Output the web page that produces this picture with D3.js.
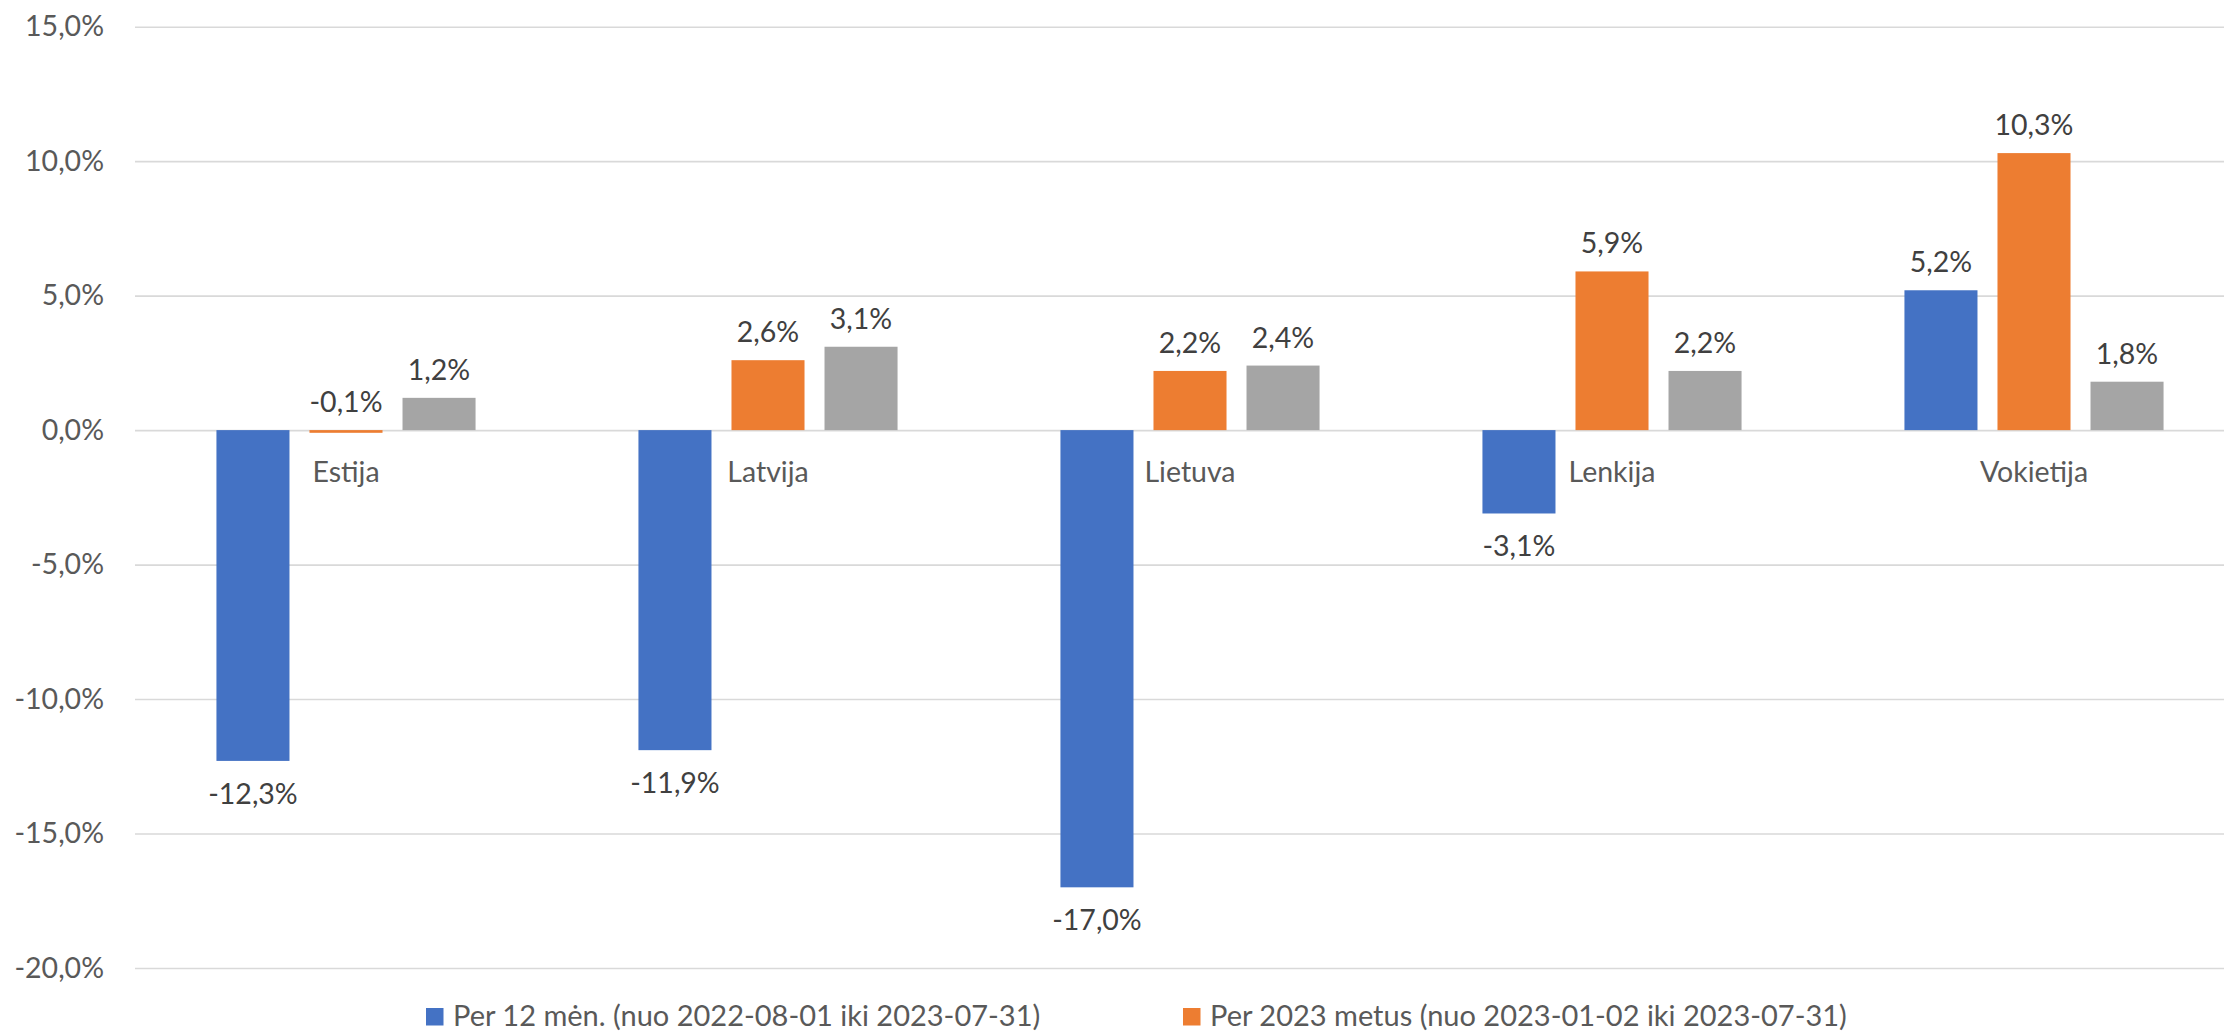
<!DOCTYPE html>
<html>
<head>
<meta charset="utf-8">
<script src="https://cdn.jsdelivr.net/npm/d3@7"></script>
<style>
  html, body { margin: 0; padding: 0; background: #fff; overflow: hidden; }
  svg { display: block; font-family: Lato, 'Noto Sans', sans-serif; }
</style>
</head>
<body>
<svg id="chart" width="2224" height="1031"></svg>
<script>
// data
const categories = ['Estija', 'Latvija', 'Lietuva', 'Lenkija', 'Vokietija'];
const per12men = [-12.3, -11.9, -17.0, -3.1, 5.2];
const per2023 = [-0.1, 2.6, 2.2, 5.9, 10.3];
const thirdSeries = [1.2, 3.1, 2.4, 2.2, 1.8];
const seriesKeys = ['s12', 's2023', 's3'];
const legendNames = [
  'Per 12 mėn. (nuo 2022-08-01 iki 2023-07-31)',
  'Per 2023 metus (nuo 2023-01-02 iki 2023-07-31)'
];
const yTicks = [-20, -15, -10, -5, 0, 5, 10, 15];

const colors = { s12: '#4472C4', s2023: '#ED7D31', s3: '#A5A5A5' };
const textColor = '#595959';

const rows = categories.map((c, i) => ({
  category: c,
  s12: per12men[i],
  s2023: per2023[i],
  s3: thirdSeries[i]
}));

const fmt = v => v.toFixed(1).replace('.', ',') + '%';

const svg = d3.select('#chart');

// plot area runs a bit past the right edge (the original is cropped)
const plotLeft = 135, plotRight = 2245;

const y = d3.scaleLinear()
  .domain([-20, 15])
  .range([968, 26.7]);

const x0 = d3.scaleBand()
  .domain(categories)
  .range([plotLeft, plotRight])
  .paddingInner(0.386)
  .paddingOuter(0.193);

const x1 = d3.scaleBand()
  .domain(seriesKeys)
  .range([0, x0.bandwidth()])
  .paddingInner(0.215);

// Y axis with gridlines
const yAxis = svg.append('g')
  .attr('transform', `translate(${plotLeft},0)`)
  .call(d3.axisLeft(y)
    .tickValues(yTicks)
    .tickSize(-(plotRight - plotLeft))
    .tickPadding(31)
    .tickFormat(fmt));

yAxis.select('.domain').remove();
yAxis.selectAll('line')
  .attr('stroke', '#d9d9d9')
  .attr('stroke-width', 1.6);
yAxis.selectAll('text')
  .attr('fill', textColor)
  .style('font-size', '28.5px')
  .style('font-family', 'Lato, sans-serif');

// Bars
const groups = svg.append('g')
  .selectAll('g')
  .data(rows)
  .join('g')
  .attr('transform', d => `translate(${x0(d.category)},0)`);

groups.selectAll('rect')
  .data(d => seriesKeys.map(k => ({ key: k, value: d[k] })))
  .join('rect')
  .attr('x', d => x1(d.key))
  .attr('y', d => y(Math.max(0, d.value)))
  .attr('width', x1.bandwidth())
  .attr('height', d => Math.abs(y(d.value) - y(0)))
  .attr('fill', d => colors[d.key]);

// Data labels
groups.selectAll('text.value')
  .data(d => seriesKeys.map(k => ({ key: k, value: d[k] })))
  .join('text')
  .attr('class', 'value')
  .attr('x', d => x1(d.key) + x1.bandwidth() / 2)
  .attr('y', d => d.value < -1 ? y(d.value) + 43 : Math.min(y(d.value), y(0)) - 18)
  .attr('text-anchor', 'middle')
  .attr('fill', '#404040')
  .style('font-size', '28.5px')
  .text(d => fmt(d.value));

// Category labels just under the zero line
svg.append('g')
  .selectAll('text')
  .data(categories)
  .join('text')
  .attr('x', d => x0(d) + x0.bandwidth() / 2)
  .attr('y', y(0) + 52)
  .attr('text-anchor', 'middle')
  .attr('fill', textColor)
  .style('font-size', '28.5px')
  .text(d => d);

// Legend (third entry falls outside the cropped picture)
const legendX = [426, 1183];
const legend = svg.append('g')
  .selectAll('g')
  .data(legendNames)
  .join('g')
  .attr('transform', (d, i) => `translate(${legendX[i]},1008)`);

legend.append('rect')
  .attr('width', 17.5)
  .attr('height', 17.5)
  .attr('fill', (d, i) => colors[seriesKeys[i]]);

legend.append('text')
  .attr('x', 27)
  .attr('y', 18)
  .attr('fill', textColor)
  .style('font-size', '29px')
  .text(d => d);
</script>
</body>
</html>
